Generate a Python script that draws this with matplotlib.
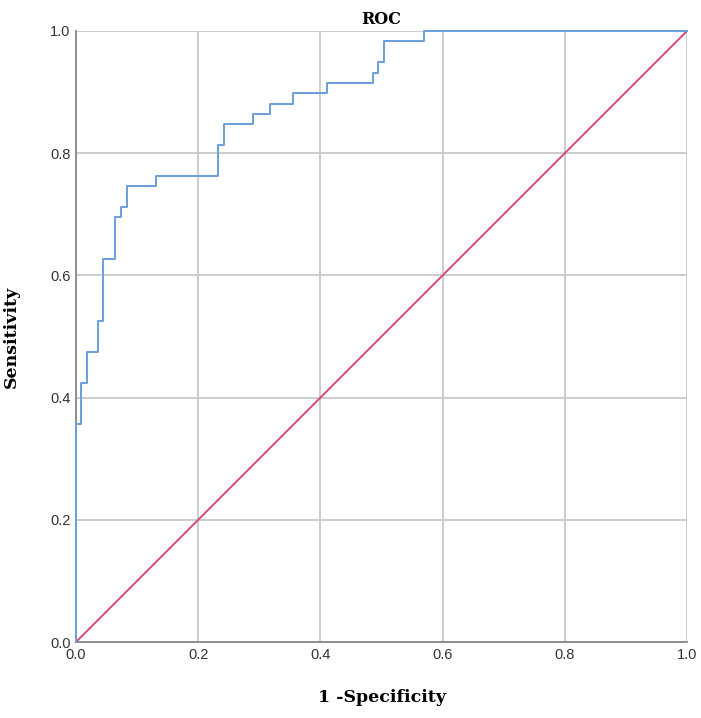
import matplotlib
matplotlib.use("Agg")
import matplotlib.pyplot as plt

# ROC steps (1 - specificity, sensitivity)
fpr = [0.0, 0.0, 0.008, 0.008, 0.018, 0.018, 0.036, 0.036, 0.045, 0.045,
       0.064, 0.064, 0.074, 0.074, 0.083, 0.083, 0.131, 0.131, 0.232, 0.232,
       0.242, 0.242, 0.289, 0.289, 0.317, 0.317, 0.355, 0.355, 0.410, 0.410,
       0.486, 0.486, 0.495, 0.495, 0.504, 0.504, 0.570, 0.570, 1.0]
tpr = [0.0, 0.356, 0.356, 0.424, 0.424, 0.475, 0.475, 0.525, 0.525, 0.627,
       0.627, 0.695, 0.695, 0.712, 0.712, 0.746, 0.746, 0.763, 0.763, 0.814,
       0.814, 0.847, 0.847, 0.864, 0.864, 0.881, 0.881, 0.898, 0.898, 0.915,
       0.915, 0.932, 0.932, 0.949, 0.949, 0.983, 0.983, 1.0, 1.0]
ref = [0.0, 1.0]
ticks = [0.0, 0.2, 0.4, 0.6, 0.8, 1.0]

fig = plt.figure(figsize=(7.01, 7.18), dpi=100)
ax = fig.add_axes([76/701, 76/718, 611/701, 611/718])

ax.plot(ref, ref, color="#d6496f", lw=1.4, zorder=3, clip_on=False)
ax.plot(fpr, tpr, color="#6a9fdc", lw=1.4, zorder=4, clip_on=False)

ax.set_xlim(0, 1)
ax.set_ylim(0, 1)
ax.set_xticks(ticks)
ax.set_yticks(ticks)
ax.set_xticklabels(["%.1f" % t for t in ticks])
ax.set_yticklabels(["%.1f" % t for t in ticks])
ax.tick_params(length=0, labelsize=10.5, labelcolor="#333333", pad=4,
               labelfontfamily="Liberation Sans")
ax.grid(True, color="#c8c8c8", lw=1.3)
ax.set_axisbelow(True)
for s in ["top", "right"]:
    ax.spines[s].set_visible(False)
for s in ["left", "bottom"]:
    ax.spines[s].set_color("#888888")
    ax.spines[s].set_linewidth(1.3)

ax.set_title("ROC", fontfamily="DejaVu Serif", fontweight="bold",
             fontsize=11.5, pad=5)
ax.set_xlabel("1 -Specificity", fontfamily="DejaVu Serif", fontweight="bold",
              fontsize=12.5, labelpad=20)
ax.set_ylabel("Sensitivity", fontfamily="DejaVu Serif", fontweight="bold",
              fontsize=12.5, labelpad=22)

fig.savefig("out.png", dpi=100)
